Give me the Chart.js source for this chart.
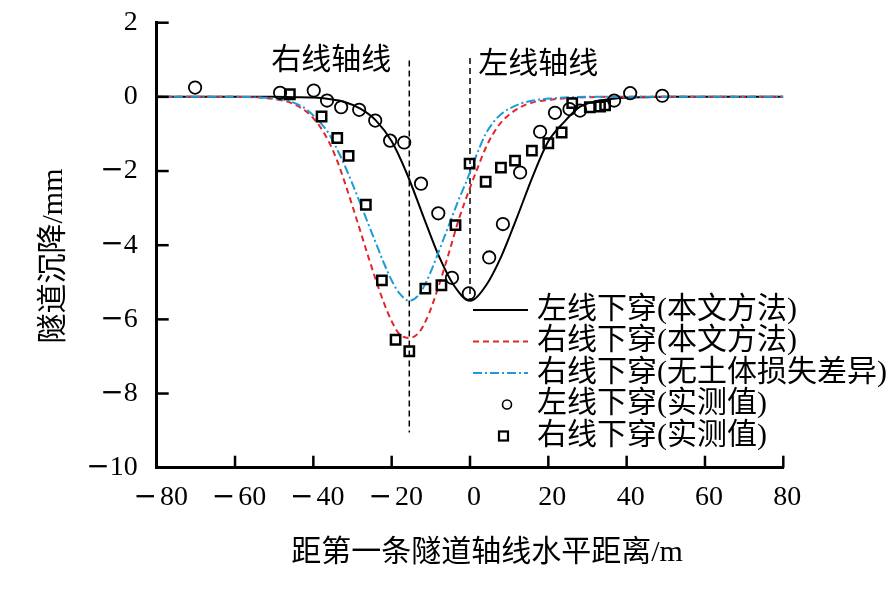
<!DOCTYPE html>
<html>
<head>
<meta charset="utf-8">
<script src="https://cdn.jsdelivr.net/npm/chart.js@4.4.1/dist/chart.umd.min.js"></script>
<style>
  html, body { margin: 0; padding: 0; background: #fff; }
  #wrap { width: 894px; height: 613px; }
</style>
</head>
<body>
<div id="wrap"><canvas id="myChart"></canvas></div>
<script>
// 左线下穿(本文方法)
const xLeftCalc = [-80, -60, -50, -45, -40, -36, -32, -28, -24, -20, -16, -12, -8, -4, 0, 4, 8, 12, 16, 20, 24, 28, 32, 36, 40, 45, 50, 60, 80];
const yLeftCalc = [0, 0, 0, -0.01, -0.02, -0.06, -0.14, -0.32, -0.64, -1.2, -2.1, -3.2, -4.28, -5.1, -5.5, -5.1, -4.3, -3.25, -2.15, -1.2, -0.68, -0.27, -0.12, -0.06, -0.02, -0.01, 0, 0, 0];

// 右线下穿(本文方法)
const xRightCalc = [-80, -60, -55, -50, -46, -42, -40, -38, -36, -34, -32, -30, -28, -26, -24, -22, -20, -18, -15.5, -13, -10.5, -8, -5.5, -3, 0, 2, 4, 6, 8, 10, 13, 16, 21, 26, 30, 35, 40, 60, 80];
const yRightCalc = [0, 0, -0.01, -0.06, -0.15, -0.38, -0.58, -0.85, -1.22, -1.7, -2.3, -2.95, -3.62, -4.3, -4.95, -5.55, -6.05, -6.4, -6.5, -6.35, -5.85, -5.1, -4.25, -3.35, -2.45, -1.9, -1.38, -0.98, -0.68, -0.48, -0.27, -0.15, -0.07, -0.03, -0.01, 0, 0, 0, 0];

// 右线下穿(无土体损失差异)
const xNoLoss = [-80, -60, -55, -50, -46, -42, -38, -36, -34, -32, -30, -28, -26, -24, -22, -20, -18, -15.5, -13, -11, -9, -7, -5, -3, -1, 0, 2, 4, 6, 8, 10, 13, 16, 21, 26, 30, 40, 60, 80];
const yNoLoss = [0, 0, -0.01, -0.04, -0.12, -0.32, -0.72, -1.0, -1.4, -1.85, -2.35, -2.88, -3.42, -3.95, -4.48, -4.95, -5.3, -5.5, -5.33, -4.95, -4.45, -3.9, -3.35, -2.8, -2.3, -2.03, -1.48, -1.0, -0.68, -0.46, -0.32, -0.18, -0.1, -0.04, -0.01, 0, 0, 0, 0];

// 左线下穿(实测值)
const xLeftMeas = [-70.2, -48.5, -39.9, -36.5, -32.9, -28.3, -24.2, -20.4, -16.8, -12.5, -8.1, -4.6, -0.3, 4.9, 8.4, 12.8, 17.9, 21.7, 25.4, 28.1, 36.8, 40.9, 49.1];
const yLeftMeas = [0.25, 0.11, 0.17, -0.1, -0.28, -0.35, -0.64, -1.18, -1.23, -2.34, -3.14, -4.88, -5.3, -4.33, -3.43, -2.04, -0.94, -0.43, -0.33, -0.37, -0.1, 0.1, 0.03];

// 右线下穿(实测值)
const xRightMeas = [-46.0, -37.9, -33.9, -31.0, -26.6, -22.5, -19.0, -15.5, -11.4, -7.3, -3.7, -0.1, 4.0, 7.9, 11.5, 15.8, 20.0, 23.4, 26.1, 30.6, 33.2, 34.5];
const yRightMeas = [0.07, -0.53, -1.11, -1.59, -2.91, -4.95, -6.55, -6.86, -5.17, -5.08, -3.46, -1.8, -2.29, -1.91, -1.72, -1.45, -1.25, -0.96, -0.17, -0.28, -0.26, -0.23];

// líneas de eje de túnel (discontinuas)
const axisLineX = [-15.5, 0];
const axisLineTop = [0.98, 1.05];
const axisLineBottom = [-9.05, -5.5];
const axisNames = ["右线轴线", "左线轴线"];
const axisNameX = [-35.4, 17.4];
const axisNameY = [0.97, 0.86];

const xTicks = [-80, -60, -40, -20, 0, 20, 40, 60, 80];
const yTicks = [2, 0, -2, -4, -6, -8, -10];

const seriesNames = [
  "左线下穿(本文方法)",
  "右线下穿(本文方法)",
  "右线下穿(无土体损失差异)",
  "左线下穿(实测值)",
  "右线下穿(实测值)",
];
const xTitle = "距第一条隧道轴线水平距离/m";
const yTitle = "隧道沉降/mm";

const textFont = '30px "Liberation Serif", "Noto Sans CJK SC"';
const digitFont = '28px "Liberation Serif"';
const minusFont = '28px "DejaVu Sans"';
const pts = (xs, ys) => xs.map((x, i) => ({ x: x, y: ys[i] }));

const datasets = [
  {
    label: seriesNames[0],
    data: pts(xLeftCalc, yLeftCalc),
    borderColor: "#000",
    borderWidth: 2,
    pointRadius: 0,
    cubicInterpolationMode: "monotone",
    order: 3,
  },
  {
    label: seriesNames[1],
    data: pts(xRightCalc, yRightCalc),
    borderColor: "#e3262b",
    borderWidth: 2,
    borderDash: [6, 4],
    pointRadius: 0,
    cubicInterpolationMode: "monotone",
    order: 2,
  },
  {
    label: seriesNames[2],
    data: pts(xNoLoss, yNoLoss),
    borderColor: "#1e9bd7",
    borderWidth: 2,
    borderDash: [9, 3, 2, 3],
    pointRadius: 0,
    cubicInterpolationMode: "monotone",
    order: 1,
  },
  {
    label: seriesNames[3],
    data: pts(xLeftMeas, yLeftMeas),
    showLine: false,
    pointStyle: "circle",
    pointRadius: 6.2,
    borderColor: "#000",
    pointBorderWidth: 1.8,
    backgroundColor: "rgba(255,255,255,0)",
    order: 0,
  },
  {
    label: seriesNames[4],
    data: pts(xRightMeas, yRightMeas),
    showLine: false,
    pointStyle: "rect",
    pointRadius: 6.6,
    borderColor: "#000",
    pointBorderWidth: 2.5,
    backgroundColor: "rgba(255,255,255,0)",
    order: 0,
  },
];

// líneas verticales de los ejes
axisLineX.forEach((x, i) => {
  datasets.push({
    label: "",
    data: [{ x: x, y: axisLineTop[i] }, { x: x, y: axisLineBottom[i] }],
    borderColor: "#000",
    borderWidth: 1.5,
    borderDash: [6, 4],
    pointRadius: 0,
    order: 4,
  });
});

// número con signo menos largo (como en el original)
function drawNum(ctx, v, x, y, align) {
  const digits = String(Math.abs(v));
  ctx.font = digitFont;
  const dw = ctx.measureText(digits).width;
  let mw = 0;
  let gap = 0;
  if (v < 0) {
    ctx.font = minusFont;
    mw = ctx.measureText("\u2212").width;
    gap = align === "center" ? 3 : 0;
  }
  const total = mw + gap + dw;
  const left = align === "center" ? x - total / 2 : x - total;
  ctx.textAlign = "left";
  if (v < 0) {
    ctx.font = minusFont;
    ctx.fillText("\u2212", left, y);
  }
  ctx.font = digitFont;
  ctx.fillText(digits, left + mw + gap, y);
}

const decoPlugin = {
  id: "deco",
  afterDraw(chart) {
    const ctx = chart.ctx;
    const sx = chart.scales.x;
    const sy = chart.scales.y;
    const area = chart.chartArea;
    ctx.save();

    // marcas hacia dentro
    ctx.strokeStyle = "#000";
    ctx.lineWidth = 2.5;
    ctx.setLineDash([]);
    xTicks.forEach((v) => {
      const px = sx.getPixelForValue(v);
      ctx.beginPath();
      ctx.moveTo(px, area.bottom);
      ctx.lineTo(px, area.bottom - 12);
      ctx.stroke();
    });
    yTicks.forEach((v) => {
      const py = sy.getPixelForValue(v);
      ctx.beginPath();
      ctx.moveTo(area.left, py);
      ctx.lineTo(area.left + 12, py);
      ctx.stroke();
    });

    // etiquetas de los ejes
    ctx.fillStyle = "#000";
    ctx.textBaseline = "middle";
    xTicks.forEach((v) => {
      drawNum(ctx, v, sx.getPixelForValue(v) + 4, area.bottom + 30, "center");
    });
    yTicks.forEach((v) => {
      drawNum(ctx, v, area.left - 19, sy.getPixelForValue(v), "right");
    });

    // textos
    ctx.font = textFont;
    ctx.textAlign = "center";
    axisNames.forEach((t, i) => {
      ctx.fillText(t, sx.getPixelForValue(axisNameX[i]), sy.getPixelForValue(axisNameY[i]));
    });
    ctx.fillText(xTitle, 487, 553);
    ctx.save();
    ctx.translate(54, 256);
    ctx.rotate(-Math.PI / 2);
    ctx.fillText(yTitle, 0, 0);
    ctx.restore();

    // leyenda
    const rowY = [310, 341.5, 373, 404.5, 436];
    ctx.textAlign = "left";
    for (let i = 0; i < 5; i++) {
      const ds = chart.data.datasets[i];
      const y = rowY[i];
      ctx.strokeStyle = ds.borderColor;
      if (i < 3) {
        ctx.lineWidth = ds.borderWidth;
        ctx.setLineDash(ds.borderDash || []);
        ctx.beginPath();
        ctx.moveTo(473, y);
        ctx.lineTo(528, y);
        ctx.stroke();
      } else if (i === 3) {
        ctx.setLineDash([]);
        ctx.lineWidth = 1.6;
        ctx.beginPath();
        ctx.arc(507, y, 4.5, 0, Math.PI * 2);
        ctx.stroke();
      } else {
        ctx.setLineDash([]);
        ctx.lineWidth = 2.2;
        ctx.strokeRect(499, y - 4.5, 9, 9);
      }
      ctx.fillText(ds.label, 537, y);
    }
    ctx.restore();
  },
};

const ctx = document.getElementById("myChart").getContext("2d");
const myChart = new Chart(ctx, {
  type: "line",
  data: { datasets: datasets },
  options: {
    responsive: true,
    maintainAspectRatio: false,
    animation: false,
    layout: { padding: { top: 22.7, right: 110.7, left: 0, bottom: 0 } },
    plugins: {
      legend: { display: false },
      tooltip: { enabled: false },
    },
    scales: {
      x: {
        type: "linear",
        min: -80,
        max: 80,
        afterBuildTicks: (s) => {
          s.ticks = xTicks.map((v) => ({ value: v }));
        },
        afterFit: (s) => {
          s.height = 145.3;
          s.paddingLeft = 0;
          s.paddingRight = 0;
        },
        grid: { display: false, drawTicks: false },
        border: { display: true, color: "#000", width: 3 },
        ticks: { display: false },
      },
      y: {
        type: "linear",
        min: -10,
        max: 2,
        afterBuildTicks: (s) => {
          s.ticks = yTicks.map((v) => ({ value: v }));
        },
        afterFit: (s) => {
          s.width = 156.7;
          s.paddingTop = 0;
          s.paddingBottom = 0;
        },
        grid: { display: false, drawTicks: false },
        border: { display: true, color: "#000", width: 3 },
        ticks: { display: false },
      },
    },
  },
  plugins: [decoPlugin],
});
</script>
</body>
</html>
